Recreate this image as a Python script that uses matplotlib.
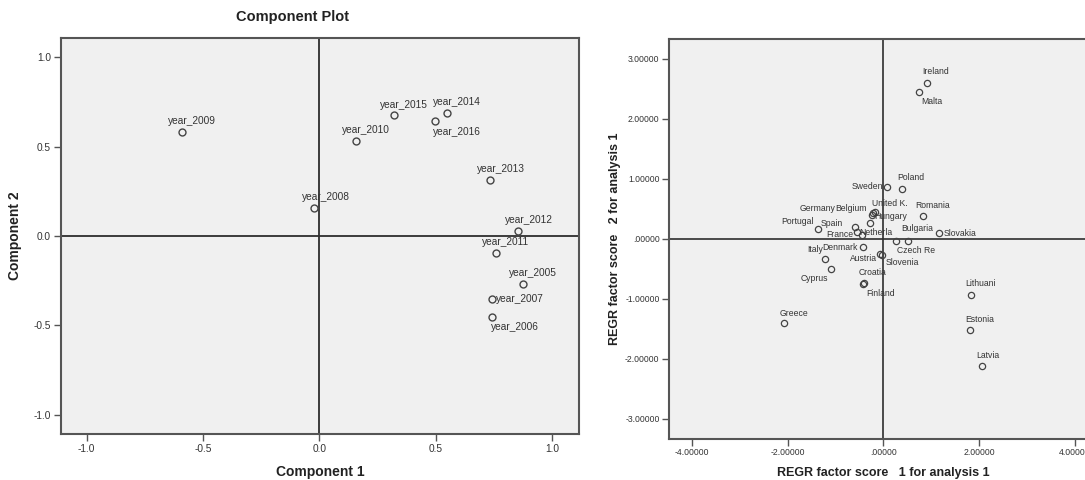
import matplotlib
matplotlib.use("Agg")
import matplotlib.pyplot as plt
from matplotlib.ticker import FixedLocator, FuncFormatter

plt.rcParams['font.family'] = ['Liberation Sans', 'DejaVu Sans']

# ---------------- data ----------------
year_labels = ['year_2005', 'year_2006', 'year_2007', 'year_2008', 'year_2009', 'year_2010',
               'year_2011', 'year_2012', 'year_2013', 'year_2014', 'year_2015', 'year_2016']
component1 = [0.875, 0.741, 0.741, -0.021, -0.591, 0.159, 0.757, 0.853, 0.731, 0.548, 0.319, 0.495]
component2 = [-0.268, -0.451, -0.354, 0.160, 0.580, 0.530, -0.097, 0.026, 0.315, 0.690, 0.677, 0.643]

countries = ['Ireland', 'Malta', 'Sweden', 'Poland', 'United K.', 'Belgium', 'Germany', 'Hungary',
             'Romania', 'Portugal', 'Spain', 'France', 'Netherla', 'Bulgaria', 'Czech Re', 'Slovakia',
             'Denmark', 'Italy', 'Austria', 'Slovenia', 'Cyprus', 'Croatia', 'Finland', 'Lithuani',
             'Estonia', 'Latvia', 'Greece']
score1 = [0.912, 0.752, 0.084, 0.397, -0.173, -0.215, -0.236, -0.278,
          0.835, -1.357, -0.591, -0.549, -0.445, 0.516, 0.265, 1.169,
          -0.430, -1.223, -0.069, -0.027, -1.086, -0.397, -0.430, 1.831,
          1.817, 2.061, -2.067]
score2 = [2.600, 2.444, 0.867, 0.839, 0.450, 0.425, 0.400, 0.262,
          0.383, 0.162, 0.192, 0.117, 0.067, -0.033, -0.033, 0.094,
          -0.128, -0.328, -0.250, -0.267, -0.495, -0.728, -0.755, -0.928,
          -1.517, -2.117, -1.406]

left_ticks = [-1.0, -0.5, 0.0, 0.5, 1.0]
right_xticks = [-4, -2, 0, 2, 4]
right_yticks = [-3, -2, -1, 0, 1, 2, 3]

# ---------------- label placement (pixel offsets, image y-down) ----------------
year_label_pos = {
    'year_2009': (10.6, -11, 'center'), 'year_2015': (10, -10, 'center'),
    'year_2014': (10, -11, 'center'), 'year_2016': (22.6, 11, 'center'),
    'year_2010': (10, -11, 'center'), 'year_2013': (11, -11, 'center'),
    'year_2008': (11, -11, 'center'), 'year_2012': (10.7, -11, 'center'),
    'year_2011': (10, -11, 'center'), 'year_2005': (10, -11, 'center'),
    'year_2007': (4.5, 0, 'left'), 'year_2006': (22.7, 10.7, 'center'),
}
country_label_pos = {
    'Ireland': (9, -11, 'center'), 'Malta': (12, 9.4, 'center'), 'Sweden': (-4, 0, 'right'),
    'Poland': (8, -11, 'center'), 'United K.': (15, -8, 'center'), 'Belgium': (-6, -5, 'right'),
    'Germany': (-37, -6, 'right'), 'Hungary': (4, -7, 'left'), 'Romania': (9, -10, 'center'),
    'Portugal': (-4.6, -8, 'right'), 'Spain': (-12, -4, 'right'), 'France': (-4, 3, 'right'),
    'Netherla': (-3, -2, 'left'), 'Bulgaria': (9, -12, 'center'), 'Czech Re': (20, 10, 'center'),
    'Slovakia': (4, 0, 'left'), 'Denmark': (-5, 1, 'right'), 'Italy': (-2, -9.5, 'right'),
    'Austria': (-3, 5, 'right'), 'Slovenia': (4, 8, 'left'), 'Cyprus': (-17, 9.6, 'center'),
    'Croatia': (8, -10, 'center'), 'Finland': (18, 9, 'center'), 'Lithuani': (9, -11.4, 'center'),
    'Estonia': (9.7, -10.7, 'center'), 'Latvia': (5.3, -10.7, 'center'), 'Greece': (9.4, -10, 'center'),
}

W, H = 1085, 480
fig = plt.figure(figsize=(W / 100, H / 100), dpi=100)
fig.patch.set_facecolor('white')

face = '#f0f0f0'
spine_c = '#555555'
zero_c = '#2e2e2e'
txt_c = '#333333'
mk_c = '#444444'


def px_rect(l, t, r, b):
    return [l / W, 1 - b / H, (r - l) / W, (b - t) / H]


def style_axes(ax):
    ax.set_facecolor(face)
    for s in ['left', 'bottom', 'top', 'right']:
        ax.spines[s].set_color(spine_c)
        ax.spines[s].set_linewidth(1.5)
    ax.tick_params(direction='out', length=5, width=1, color=spine_c, labelcolor=txt_c, pad=2)


# ---------------- left panel ----------------
ax1 = fig.add_axes(px_rect(60.7, 37.7, 579, 434))
style_axes(ax1)
ax1.set_xlim(-1.111, 1.115)
ax1.set_ylim(-1.107, 1.11)
ax1.axhline(0, color=zero_c, lw=1.3, zorder=1)
ax1.axvline(0, color=zero_c, lw=1.3, zorder=1)
ax1.plot(component1, component2, linestyle='none', marker='o', ms=5, mfc='none',
         mec=mk_c, mew=1.0, zorder=3)
for lab, x, y in zip(year_labels, component1, component2):
    dx, dy, ha = year_label_pos[lab]
    ax1.annotate(lab, (x, y), xytext=(dx, -dy), textcoords='offset pixels',
                 ha=ha, va='center', fontsize=7.3, color=txt_c)
ax1.xaxis.set_major_locator(FixedLocator(left_ticks))
ax1.yaxis.set_major_locator(FixedLocator(left_ticks))
ax1.xaxis.set_major_formatter(FuncFormatter(lambda v, p: f'{v:.1f}'))
ax1.yaxis.set_major_formatter(FuncFormatter(lambda v, p: f'{v:.1f}'))
for t in ax1.get_xticklabels() + ax1.get_yticklabels():
    t.set_fontsize(7.3)
ax1.set_xlabel('Component 1', fontsize=10, fontweight='bold', color='#222222', labelpad=8)
ax1.set_ylabel('Component 2', fontsize=10, fontweight='bold', color='#222222', labelpad=8)
fig.text(293 / W, 1 - 17 / H, 'Component Plot', ha='center', va='center',
         fontsize=10.5, fontweight='bold', color='#222222')

# ---------------- right panel ----------------
ax2 = fig.add_axes(px_rect(669.3, 39, 1097.4, 438.7))
style_axes(ax2)
ax2.set_xlim(-4.47, 4.47)
ax2.set_ylim(-3.33, 3.333)
ax2.axhline(0, color=zero_c, lw=1.2, zorder=1)
ax2.axvline(0, color=zero_c, lw=1.2, zorder=1)
ax2.plot(score1, score2, linestyle='none', marker='o', ms=4.5, mfc='none',
         mec=mk_c, mew=0.9, zorder=3)
for lab, x, y in zip(countries, score1, score2):
    dx, dy, ha = country_label_pos[lab]
    ax2.annotate(lab, (x, y), xytext=(dx, -dy), textcoords='offset pixels',
                 ha=ha, va='center', fontsize=6.2, color=txt_c)


def spss_fmt(v, p):
    s = f'{v:.5f}'
    if s.startswith('0'):
        s = s[1:]
    elif s.startswith('-0'):
        s = '-' + s[2:]
    if s in ('-.00000',):
        s = '.00000'
    return s


ax2.xaxis.set_major_locator(FixedLocator(right_xticks))
ax2.yaxis.set_major_locator(FixedLocator(right_yticks))
ax2.xaxis.set_major_formatter(FuncFormatter(spss_fmt))
ax2.yaxis.set_major_formatter(FuncFormatter(spss_fmt))
for t in ax2.get_xticklabels() + ax2.get_yticklabels():
    t.set_fontsize(6.2)
ax2.set_xlabel('REGR factor score   1 for analysis 1', fontsize=9, fontweight='bold',
               color='#222222', labelpad=8)
ax2.xaxis.set_label_coords((883.3 - 669.3) / (1097.4 - 669.3), -0.072)
ax2.set_ylabel('REGR factor score   2 for analysis 1', fontsize=9, fontweight='bold',
               color='#222222', labelpad=3)

fig.savefig('out.png', dpi=100, facecolor='white')
